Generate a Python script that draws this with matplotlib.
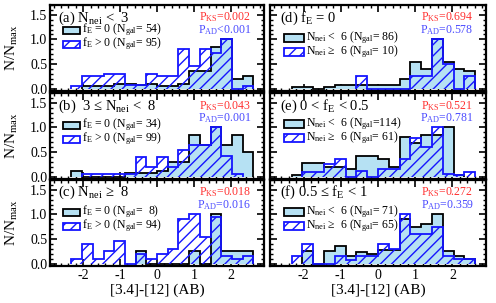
import numpy as np
import matplotlib
matplotlib.use("Agg")
import matplotlib.pyplot as plt
from matplotlib.patches import Rectangle
from matplotlib.ticker import MultipleLocator, FormatStrFormatter

plt.rcParams['font.family'] = 'serif'
plt.rcParams['font.serif'] = ['Liberation Serif', 'DejaVu Serif']
plt.rcParams['mathtext.fontset'] = 'custom'
plt.rcParams['mathtext.rm'] = 'Liberation Serif'
plt.rcParams['mathtext.it'] = 'Liberation Serif:italic'
plt.rcParams['axes.unicode_minus'] = False
plt.rcParams['hatch.linewidth'] = 1.0

# 20 equal bins over [-2.9, 2.9]
edges = np.linspace(-2.9, 2.9, 21)

# ---- data (N/Nmax per bin) ----
a_fe0 = [0, 0, 0, 0.05, 0.05, 0.05, 0.1, 0.1, 0.07, 0.1, 0.05, 0.05, 0.1, 0.35, 0.35, 0.85, 1.0, 0.2, 0.25, 0]
a_fe1 = [0, 0, 0.05, 0.25, 0.25, 0.3, 0.3, 0.07, 0.07, 0.3, 0.25, 0.25, 0.8, 0.45, 0.8, 0.72, 1.0, 0, 0.05, 0]
b_fe0 = [0, 0, 0.12, 0, 0, 0, 0, 0.07, 0.07, 0.07, 0.12, 0.3, 0.3, 0.85, 0.65, 1.0, 0.65, 0.85, 0.5, 0]
b_fe1 = [0, 0, 0, 0.05, 0.05, 0.05, 0.05, 0.05, 0.4, 0.2, 0.4, 0.2, 0.53, 0.65, 0.65, 1.0, 0.42, 0.05, 0, 0]
c_fe0 = [0, 0, 0, 0, 0, 0, 0, 0, 0.25, 0, 0, 0, 0, 0.25, 0, 1.0, 0.25, 0.25, 0.25, 0]
c_fe1 = [0, 0, 0.1, 0.4, 0.1, 0.25, 0.45, 0, 0.2, 0.1, 0.2, 0.3, 0.9, 1.0, 0.55, 0.95, 0.15, 0.1, 0.15, 0]
d_lo = [0, 0, 0.03, 0.03, 0, 0.03, 0.07, 0.07, 0.07, 0.07, 0.07, 0.07, 0.19, 0.53, 0.4, 1.0, 0.53, 0.4, 0.36, 0]
d_hi = [0, 0, 0, 0, 0, 0, 0, 0, 0.25, 0, 0, 0, 0, 0.25, 0.25, 1.0, 0.5, 0, 0.25, 0]
e_lo = [0, 0, 0.03, 0.27, 0.27, 0.2, 0.2, 0.15, 0.42, 0.42, 0.35, 0.2, 0.8, 0.68, 0.85, 0.85, 1.0, 0.03, 0, 0]
e_hi = [0, 0, 0, 0.1, 0.1, 0.25, 0.35, 0, 0.12, 0, 0.15, 0.15, 0.35, 0.78, 0.6, 1.0, 0.05, 0.03, 0.1, 0]
f_lo = [0, 0, 0, 0.25, 0, 0.25, 0.35, 0.15, 0.23, 0.2, 0.27, 0.27, 0.9, 0.75, 0.8, 1.0, 0.25, 0.15, 0.1, 0]
f_hi = [0, 0, 0.15, 0.4, 0, 0, 0.15, 0.07, 0.15, 0.15, 0.4, 0.3, 1.0, 0.6, 0.6, 0.75, 0.15, 0.1, 0.1, 0]

titles = [r"(a) N$_{\rm nei}$ <  3", r"(b)  3 ≤ N$_{\rm nei}$ <  8", r"(c) N$_{\rm nei}$ ≥  8",
          r"(d) f$_{\rm E}$ = 0", r"(e) 0 < f$_{\rm E}$ < 0.5", r"(f) 0.5 ≤ f$_{\rm E}$ < 1"]
labels0 = [r"f$_{\rm E}$ = 0 (N$_{\rm gal}$= 54)", r"f$_{\rm E}$ = 0 (N$_{\rm gal}$= 34)", r"f$_{\rm E}$ = 0 (N$_{\rm gal}$=  8)",
           r"N$_{\rm nei}$ <  6 (N$_{\rm gal}$= 86)", r"N$_{\rm nei}$ <  6 (N$_{\rm gal}$=114)", r"N$_{\rm nei}$ <  6 (N$_{\rm gal}$= 71)"]
labels1 = [r"f$_{\rm E}$ > 0 (N$_{\rm gal}$= 95)", r"f$_{\rm E}$ > 0 (N$_{\rm gal}$= 99)", r"f$_{\rm E}$ > 0 (N$_{\rm gal}$= 94)",
           r"N$_{\rm nei}$ ≥  6 (N$_{\rm gal}$= 10)", r"N$_{\rm nei}$ ≥  6 (N$_{\rm gal}$= 61)", r"N$_{\rm nei}$ ≥  6 (N$_{\rm gal}$= 65)"]
p_ks = ["=0.002", "=0.043", "=0.018", "=0.694", "=0.521", "=0.272"]
p_ad = ["<0.001", "=0.001", "=0.016", "=0.578", "=0.781", "=0.359"]
hist0 = [a_fe0, b_fe0, c_fe0, d_lo, e_lo, f_lo]
hist1 = [a_fe1, b_fe1, c_fe1, d_hi, e_hi, f_hi]

W, H = 496, 303
fig = plt.figure(figsize=(W / 100, H / 100), dpi=100)

def fxy(x, y):
    return (x / W, 1 - y / H)

LIGHT = '#b6e1f3'
BLUE = '#1515ff'
RED = '#ff3030'
PBLUE = '#4a4aff'

col_x = [(50, 214), (270, 216)]
row_top = [5, 93, 180]
ph = 86
title_y = [18, 106, 192]
leg_rows = [[(30, 44), (125, 139), (212, 226)], [(38, 52), (124, 138), (212, 226)]]
pks_y = [17, 106, 192]
pad_y = [30, 118, 205]

def draw_hist(ax, vals, **kw):
    v = np.array(vals, dtype=float)
    nz = np.nonzero(v)[0]
    i0, i1 = nz[0], nz[-1] + 1
    ax.stairs(v[i0:i1], edges[i0:i1 + 1], fill=True, baseline=0, **kw)

for i in range(6):
    col, row = i // 3, i % 3
    x0, w = col_x[col]
    top = row_top[row]
    ax = fig.add_axes([x0 / W, 1 - (top + ph) / H, w / W, ph / H])
    draw_hist(ax, hist0[i], facecolor=LIGHT, edgecolor='black', lw=1.3, zorder=2)
    draw_hist(ax, hist1[i], facecolor='none', edgecolor=BLUE, hatch='///', lw=1.3, zorder=3)
    ax.set_xlim(-2.9, 2.9)
    ax.set_ylim(-0.05, 1.7)
    ax.xaxis.set_major_locator(MultipleLocator(1))
    ax.xaxis.set_minor_locator(MultipleLocator(0.2))
    ax.yaxis.set_major_locator(MultipleLocator(0.5))
    ax.yaxis.set_minor_locator(MultipleLocator(0.1))
    ax.yaxis.set_major_formatter(FormatStrFormatter('%.1f'))
    ax.tick_params(which='both', direction='in', top=True, right=True, labelsize=10, pad=2)
    ax.tick_params(which='major', length=5, width=1.2)
    ax.tick_params(which='minor', length=2.5, width=1.0)
    for s in ax.spines.values():
        s.set_linewidth(1.6)
        s.set_zorder(4)
    if row < 2:
        ax.set_xticklabels([])
    else:
        ax.set_xlabel('[3.4]-[12] (AB)', fontsize=11, labelpad=1)
    if col == 1:
        ax.set_yticklabels([])
    else:
        ax.set_ylabel(r'N/N$_{\rm max}$', fontsize=11)
        ax.yaxis.set_label_coords(-0.14, 0.5)

    tx = x0 + 8 if col == 0 else x0 + 10
    fig.text(*fxy(tx, title_y[row]), titles[i], fontsize=10.5, ha='left', va='center')

    # legend drawn by hand
    hx, hw, hh = (63, 17, 7) if col == 0 else (284, 20, 8)
    y1, y2 = leg_rows[col][row]
    fig.patches.append(Rectangle(fxy(hx, y1 + hh / 2), hw / W, hh / H, transform=fig.transFigure,
                                 facecolor=LIGHT, edgecolor='black', lw=1.3))
    fig.patches.append(Rectangle(fxy(hx, y2 + hh / 2), hw / W, hh / H, transform=fig.transFigure,
                                 facecolor='none', edgecolor=BLUE, hatch='///', lw=1.3))
    fig.text(*fxy(hx + hw + 2, y1), labels0[i], fontsize=8.5, ha='left', va='center')
    fig.text(*fxy(hx + hw + 2, y2), labels1[i], fontsize=8.5, ha='left', va='center')

    rx = 251 if col == 0 else 473
    fig.text(*fxy(rx, pks_y[row]), r"P$_{\rm KS}$" + p_ks[i], color=RED, fontsize=8.5, ha='right', va='center')
    fig.text(*fxy(rx, pad_y[row]), r"P$_{\rm AD}$" + p_ad[i], color=PBLUE, fontsize=8.5, ha='right', va='center')

fig.savefig('out.png', dpi=100)
